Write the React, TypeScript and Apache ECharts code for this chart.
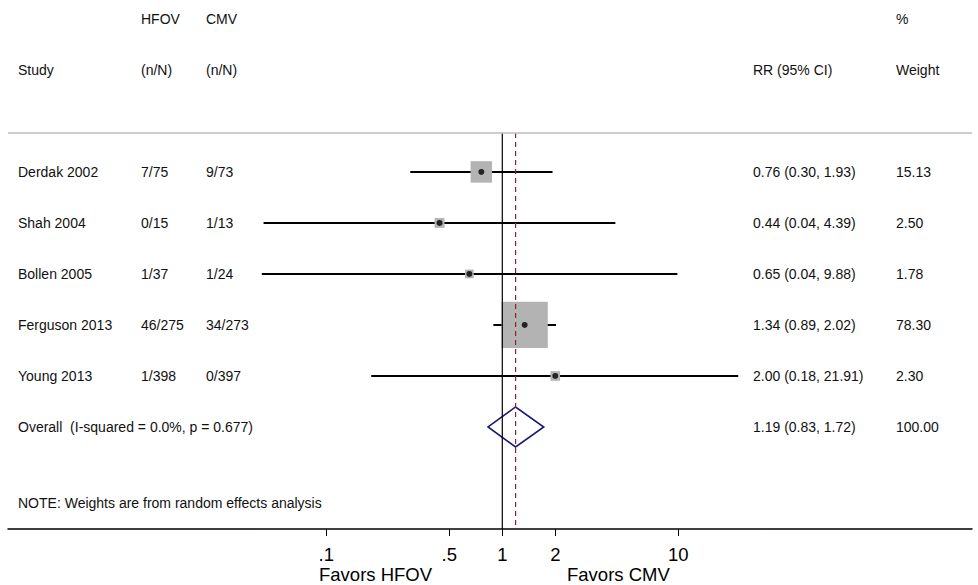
import React, { useEffect, useRef } from "react";
import * as echarts from "echarts";

// ---- data ----
const studies = ["Derdak 2002", "Shah 2004", "Bollen 2005", "Ferguson 2013", "Young 2013"];
const hfovCounts = ["7/75", "0/15", "1/37", "46/275", "1/398"];
const cmvCounts = ["9/73", "1/13", "1/24", "34/273", "0/397"];
const rrValues = [0.76, 0.44, 0.65, 1.34, 2.0];
const ciLower = [0.3, 0.044, 0.043, 0.89, 0.18];
const ciUpper = [1.93, 4.39, 9.88, 2.02, 21.91];
const ciLabels = [
  "0.76 (0.30, 1.93)",
  "0.44 (0.04, 4.39)",
  "0.65 (0.04, 9.88)",
  "1.34 (0.89, 2.02)",
  "2.00 (0.18, 21.91)",
];
const weights = [15.13, 2.5, 1.78, 78.3, 2.3];
const weightLabels = ["15.13", "2.50", "1.78", "78.30", "2.30"];

const overallLabel = "Overall  (I-squared = 0.0%, p = 0.677)";
const overallRR = 1.19;
const overallLower = 0.83;
const overallUpper = 1.72;
const overallCI = "1.19 (0.83, 1.72)";
const overallWeight = "100.00";

const tickValues = [0.1, 0.5, 1, 2, 10];
const tickLabels = [".1", ".5", "1", "2", "10"];

const noteText = "NOTE: Weights are from random effects analysis";

// ---- layout ----
const FONT = "Liberation Sans, Arial, Helvetica, sans-serif";
const GRID_LEFT = 8;
const GRID_RIGHT_X = 972;
const ONE_X = 502.3;
const PX_PER_DECADE = 176;
const X_MIN = Math.pow(10, (GRID_LEFT - ONE_X) / PX_PER_DECADE);
const X_MAX = Math.pow(10, (GRID_RIGHT_X - ONE_X) / PX_PER_DECADE);
const ROW_TOP_LINE = -0.765;
const ROW_AXIS = 7;
const ROW_HEAD1 = -3;
const ROW_HEAD2 = -2;
const ROW_NOTE = 6.5;
const OVERALL_ROW = studies.length;

const COL_STUDY = 18;
const COL_HFOV = 141;
const COL_CMV = 206;
const COL_RR = 753;
const COL_W = 896;

export default function App() {
  const ref = useRef<HTMLDivElement>(null);
  useEffect(() => {
    if (!ref.current) return;
    const chart = echarts.init(ref.current, undefined, { renderer: "svg" });

    const textPos: number[][] = [];
    const textStr: string[] = [];
    const addText = (x: number, row: number, t: string) => {
      textPos.push([x, row]);
      textStr.push(t);
    };
    addText(COL_HFOV, ROW_HEAD1, "HFOV");
    addText(COL_CMV, ROW_HEAD1, "CMV");
    addText(COL_W, ROW_HEAD1, "%");
    addText(COL_STUDY, ROW_HEAD2, "Study");
    addText(COL_HFOV, ROW_HEAD2, "(n/N)");
    addText(COL_CMV, ROW_HEAD2, "(n/N)");
    addText(COL_RR, ROW_HEAD2, "RR (95% CI)");
    addText(COL_W, ROW_HEAD2, "Weight");
    studies.forEach((s, i) => {
      addText(COL_STUDY, i, s);
      addText(COL_HFOV, i, hfovCounts[i]);
      addText(COL_CMV, i, cmvCounts[i]);
      addText(COL_RR, i, ciLabels[i]);
      addText(COL_W, i, weightLabels[i]);
    });
    addText(COL_STUDY, OVERALL_ROW, overallLabel);
    addText(COL_RR, OVERALL_ROW, overallCI);
    addText(COL_W, OVERALL_ROW, overallWeight);
    addText(COL_STUDY, ROW_NOTE, noteText);

    const tickFmt = (v: number) => {
      for (let i = 0; i < tickValues.length; i++) {
        if (Math.abs(Math.log10(v) - Math.log10(tickValues[i])) < 1e-6) return tickLabels[i];
      }
      return "";
    };

    chart.setOption({
      animation: false,
      backgroundColor: "#ffffff",
      textStyle: { fontFamily: FONT },
      grid: { left: GRID_LEFT, right: 978 - GRID_RIGHT_X, top: 0, bottom: 56 },
      xAxis: [
        {
          type: "log",
          logBase: 10,
          min: X_MIN,
          max: X_MAX,
          axisLine: { show: true, onZero: false, lineStyle: { color: "#000", width: 1.5 } },
          axisTick: {
            show: true,
            customValues: tickValues,
            length: 7,
            lineStyle: { color: "#000", width: 1 },
          },
          axisLabel: {
            show: true,
            customValues: tickValues,
            formatter: tickFmt,
            fontSize: 18.5,
            color: "#000",
            fontFamily: FONT,
            margin: 16,
          },
          splitLine: { show: false },
          minorTick: { show: false },
        },
        {
          type: "value",
          min: GRID_LEFT,
          max: GRID_RIGHT_X,
          show: false,
          axisLine: { onZero: false },
        },
      ],
      yAxis: {
        type: "value",
        inverse: true,
        min: -3.37,
        max: ROW_AXIS,
        show: false,
        axisLine: { onZero: false },
      },
      graphic: [
        {
          type: "text",
          left: 319,
          top: 565,
          style: { text: "Favors HFOV", fontSize: 18.5, fill: "#000", fontFamily: FONT },
        },
        {
          type: "text",
          left: 567,
          top: 565,
          style: { text: "Favors CMV", fontSize: 18.5, fill: "#000", fontFamily: FONT },
        },
      ],
      series: [
        // top separator line
        {
          type: "line",
          data: [],
          markLine: {
            silent: true,
            symbol: ["none", "none"],
            label: { show: false },
            lineStyle: { color: "#bdbdbd", width: 1.5, type: "solid" },
            data: [{ yAxis: ROW_TOP_LINE }],
          },
        },
        // null line at 1
        {
          type: "line",
          data: [
            [1, ROW_TOP_LINE],
            [1, ROW_AXIS],
          ],
          showSymbol: false,
          lineStyle: { color: "#000", width: 1.2 },
        },
        // overall effect dashed line
        {
          type: "line",
          data: [
            [overallRR, ROW_TOP_LINE],
            [overallRR, ROW_AXIS],
          ],
          showSymbol: false,
          lineStyle: { color: "#8e1f33", width: 1.2, type: [5, 4] },
        },
        // weight boxes
        {
          type: "scatter",
          symbol: "rect",
          data: rrValues.map((v, i) => [v, i, weights[i]]),
          symbolSize: (val: number[]) => 2 + 5.0 * Math.sqrt(val[2]),
          itemStyle: { color: "#b3b3b3", opacity: 1 },
          clip: false,
        },
        // CI lines
        {
          type: "custom",
          clip: false,
          data: rrValues.map((_, i) => [ciLower[i], ciUpper[i], i]),
          encode: { x: [0, 1], y: 2 },
          renderItem: (params: any, api: any) => {
            const a = api.coord([api.value(0), api.value(2)]);
            const b = api.coord([api.value(1), api.value(2)]);
            return {
              type: "line",
              shape: { x1: a[0], y1: a[1], x2: b[0], y2: b[1] },
              style: { stroke: "#000", lineWidth: 2 },
            };
          },
        },
        // point estimates
        {
          type: "scatter",
          symbol: "circle",
          symbolSize: 6,
          data: rrValues.map((v, i) => [v, i]),
          itemStyle: { color: "#000" },
          clip: false,
        },
        // overall diamond
        {
          type: "custom",
          clip: false,
          data: [[overallLower, overallRR, overallUpper, OVERALL_ROW]],
          encode: { x: [0, 2], y: 3 },
          renderItem: (params: any, api: any) => {
            const l = api.coord([api.value(0), api.value(3)]);
            const c = api.coord([api.value(1), api.value(3)]);
            const r = api.coord([api.value(2), api.value(3)]);
            const h = 20;
            return {
              type: "polygon",
              shape: {
                points: [
                  [l[0], l[1]],
                  [c[0], c[1] - h],
                  [r[0], r[1]],
                  [c[0], c[1] + h],
                ],
              },
              style: { fill: "none", stroke: "#1b1b72", lineWidth: 1.6 },
            };
          },
        },
        // table texts
        {
          type: "custom",
          xAxisIndex: 1,
          yAxisIndex: 0,
          clip: false,
          silent: true,
          data: textPos,
          encode: { x: 0, y: 1 },
          renderItem: (params: any, api: any) => {
            const p = api.coord([api.value(0), api.value(1)]);
            return {
              type: "text",
              x: p[0],
              y: p[1],
              style: {
                text: textStr[params.dataIndex],
                fontSize: 14,
                fill: "#111",
                fontFamily: FONT,
                align: "left",
                verticalAlign: "middle",
              },
            };
          },
        },
      ],
    });
    return () => chart.dispose();
  }, []);

  return (
    <div
      ref={ref}
      style={{ position: "fixed", left: 0, top: 0, width: 978, height: 585, background: "#fff" }}
    />
  );
}
